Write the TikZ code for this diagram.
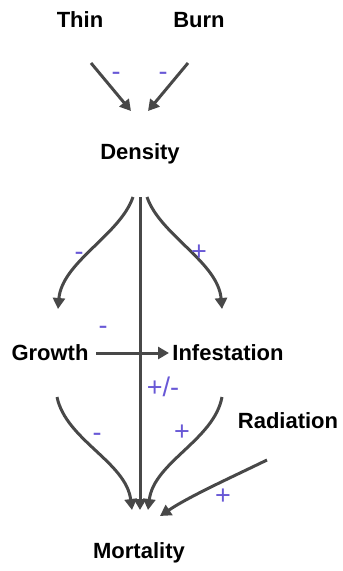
\documentclass[tikz,border=0pt]{standalone}
\usepackage{fontspec}
\setmainfont{Liberation Sans}
\usetikzlibrary{arrows.meta}
\definecolor{linec}{RGB}{72,72,72}
\definecolor{labc}{RGB}{104,88,214}
\tikzset{
  var/.style={font=\fontsize{22}{24}\selectfont\bfseries, text=black, inner sep=0pt},
  sgn/.style={font=\fontsize{27}{30}\selectfont, text=labc, inner sep=0pt},
  link/.style={draw=linec, line width=3pt, -{Triangle[length=11pt,width=12pt]}},
}
\begin{document}
\begin{tikzpicture}[x=1pt,y=-1pt]
\useasboundingbox (0,0) rectangle (343,571);
% variables
\node[var] (thin) at (80,20) {Thin};
\node[var] (burn) at (199,20) {Burn};
\node[var] (dens) at (140,154) {Density};
\node[var] (grow) at (50,353) {Growth};
\node[var] (inf) at (228,353) {Infestation};
\node[var] (rad) at (288,421) {Radiation};
\node[var] (mort) at (139,553) {Mortality};
% anchor points
\coordinate (thinS) at (91,63);
\coordinate (thinE) at (131,111);
\coordinate (burnS) at (188,63);
\coordinate (burnE) at (148,111);
\coordinate (densL) at (133,197);
\coordinate (densM) at (140,197);
\coordinate (densR) at (147,197);
\coordinate (growT) at (58,309);
\coordinate (infT) at (222,309);
\coordinate (growR) at (96,353);
\coordinate (infL) at (169,353);
\coordinate (growB) at (57,397);
\coordinate (infB) at (222,397);
\coordinate (mortL) at (132,510);
\coordinate (mortM) at (140,510);
\coordinate (mortR) at (148,510);
\coordinate (radS) at (267,460);
\coordinate (radE) at (160,516);
% connectors
\draw[link] (thinS) -- (thinE);
\draw[link] (burnS) -- (burnE);
\draw[link] (densL) .. controls (120,235) and (62,262) .. (growT);
\draw[link] (densR) .. controls (160,235) and (218,262) .. (infT);
\draw[link] (densM) -- (mortM);
\draw[link] (growR) -- (infL);
\draw[link] (growB) .. controls (66,440) and (126,462) .. (mortL);
\draw[link] (infB) .. controls (214,440) and (154,462) .. (mortR);
\draw[link] (radS) .. controls (230,478) and (190,496) .. (radE);
% signs
\node[sgn] at (116,76) {-};
\node[sgn] at (163,76) {-};
\node[sgn] at (79,256) {-};
\node[sgn] at (199,253) {+};
\node[sgn] at (103,330) {-};
\node[sgn] at (163,387) {+/-};
\node[sgn] at (97,437) {-};
\node[sgn] at (182,433) {+};
\node[sgn] at (223,497) {+};
\end{tikzpicture}
\end{document}
